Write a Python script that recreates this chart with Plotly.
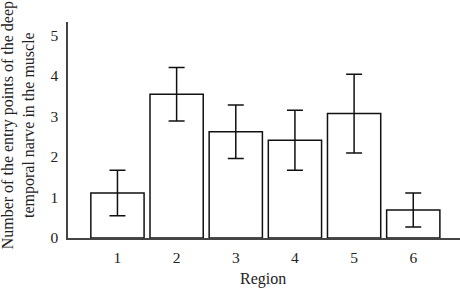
import plotly.graph_objects as go

regions = ["1", "2", "3", "4", "5", "6"]
positions = [1, 2, 3, 4, 5, 6]
means = [1.11, 3.55, 2.62, 2.41, 3.07, 0.69]
errors = [0.56, 0.66, 0.66, 0.74, 0.97, 0.42]
y_ticks = [0, 1, 2, 3, 4, 5]

FONT = "Liberation Serif"
INK = "#222222"

fig = go.Figure()
fig.add_trace(go.Bar(
    x=positions, y=means, width=0.9,
    marker=dict(color="white", line=dict(color="#111111", width=1.5)),
    error_y=dict(type="data", array=errors, visible=True,
                 color="#111111", thickness=1.5, width=8),
    showlegend=False,
))

W, H = 460, 289
ml, mr, mt, mb = 67.5, 0, 22, 50.5
pw = W - ml - mr
ph = H - mt - mb

fig.update_layout(
    width=W, height=H,
    margin=dict(l=ml, r=mr, t=mt, b=mb, pad=0, autoexpand=False),
    paper_bgcolor="white", plot_bgcolor="white",
    font=dict(family=FONT, size=15.5, color=INK),
    xaxis=dict(
        range=[0.164, 6.79], tickmode="array", tickvals=positions, ticktext=regions,
        showline=True, linecolor="#444444", linewidth=1.5, showgrid=False,
        zeroline=False, ticks="outside", ticklen=5, tickcolor="rgba(0,0,0,0)",
        automargin=False,
    ),
    yaxis=dict(
        range=[0, 5.33], tickmode="array", tickvals=y_ticks,
        showline=True, linecolor="#444444", linewidth=1.5, showgrid=False,
        zeroline=False, ticks="outside", ticklen=5, tickcolor="rgba(0,0,0,0)",
        automargin=False,
    ),
)

fig.add_annotation(
    text="Number of the entry points of the deep<br>temporal narve in the muscle",
    xref="paper", yref="paper", x=(18 - ml) / pw, y=(H - mb - 126) / ph,
    xanchor="center", yanchor="middle", textangle=-90, showarrow=False,
    font=dict(family=FONT, size=16, color=INK),
)
fig.add_annotation(
    text="Region",
    xref="paper", yref="paper", x=(263 - ml) / pw, y=-(280 - (H - mb)) / ph,
    xanchor="center", yanchor="middle", showarrow=False,
    font=dict(family=FONT, size=16, color=INK),
)

fig.write_html(
    "out.html",
    config={"displayModeBar": False},
    post_script="document.body.style.margin='0';document.body.style.overflow='hidden';",
)
